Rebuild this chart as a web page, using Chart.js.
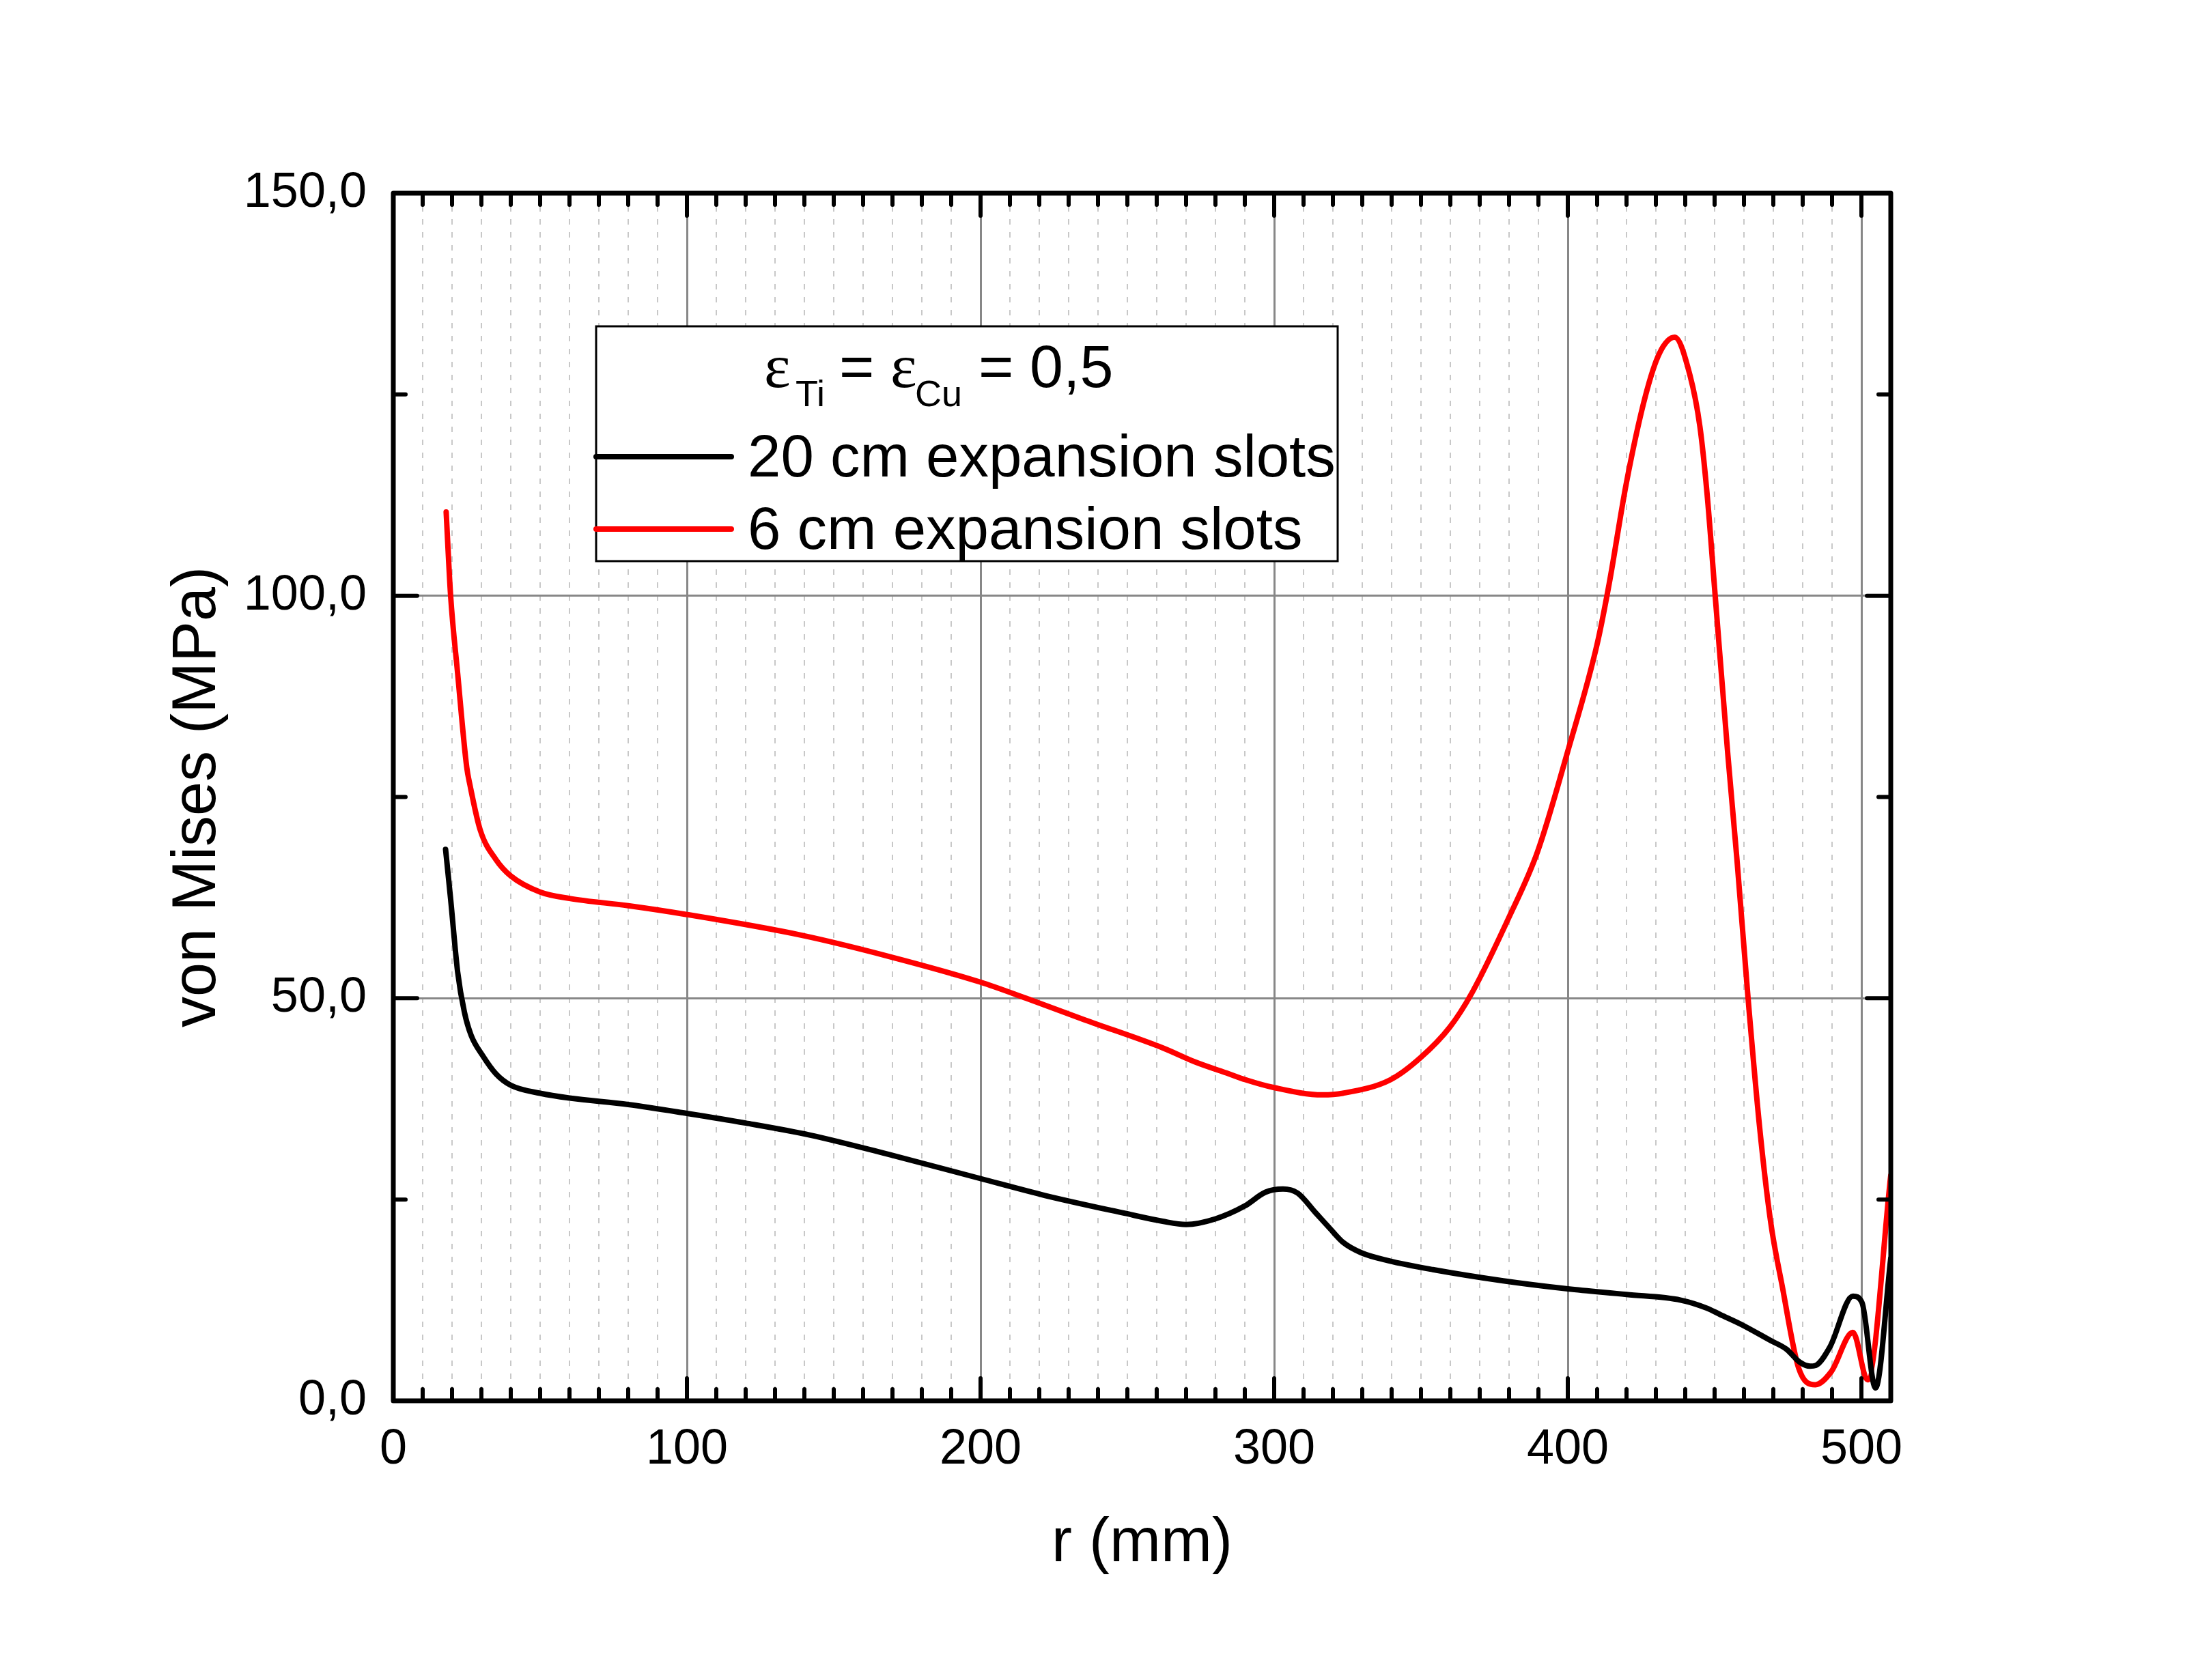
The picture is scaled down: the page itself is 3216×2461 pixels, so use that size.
<!DOCTYPE html>
<html>
<head>
<meta charset="utf-8">
<script src="https://cdn.jsdelivr.net/npm/chart.js@4.4.0/dist/chart.umd.min.js"></script>
<style>
  html, body { margin: 0; padding: 0; background: #ffffff; }
  canvas { display: block; }
</style>
</head>
<body>
<canvas id="chart" width="3216" height="2461"></canvas>
<script>
// r (mm) and von Mises stress (MPa)
const R_20CM = [17.8, 19.5, 21.9, 24.2, 26.5, 30.4, 35, 40, 50, 60, 80, 100, 120, 142, 168.8,
    200, 222, 249, 262, 270, 280, 290, 297, 303, 308, 314, 319, 323.4, 329.6, 339, 354, 378,
    400, 420, 438.5, 447.4, 452, 459, 469, 474.5, 479, 482.5, 484.5, 489.3, 497.1, 500.2, 504.8, 510];
const VM_20CM = [68.5, 62.4, 53.3, 48.3, 45.4, 42.9, 40.6, 39.2, 38.2, 37.6, 36.8, 35.7, 34.5, 33.0, 30.6,
    27.6, 25.5, 23.3, 22.3, 21.9, 22.6, 24.2, 25.9, 26.3, 25.8, 23.4, 21.4, 19.7, 18.4, 17.4, 16.3, 14.9,
    13.9, 13.2, 12.5, 11.5, 10.7, 9.5, 7.5, 6.4, 4.8, 4.3, 4.4, 6.7, 13.0, 12.2, 1.6, 17.7];

const R_6CM = [18, 19.5, 21.9, 25, 26.1, 29.6, 35, 40, 50, 60, 80, 100, 139.4, 168.8, 200, 215.5,
    235.6, 262.3, 273, 284.7, 290.1, 300, 316.4, 323.4, 339.7, 349.8, 359.8, 367.4, 379.9, 389.7,
    400, 410, 414.1, 420, 426.5, 431.2, 436.4, 441.6, 445, 447.4, 450.2, 454.5, 457.6, 461.4, 465.3,
    469.1, 473, 478.6, 484.3, 489.7, 497.1, 502.1, 510];
const VM_6CM = [110.4, 100.1, 90.4, 78.7, 76.5, 70.9, 67.2, 65.2, 63.2, 62.4, 61.5, 60.4, 57.8, 55.2, 52.0, 50.0,
    47.3, 43.8, 42.1, 40.6, 39.9, 38.9, 38.0, 38.2, 39.9, 42.6, 46.4, 50.7, 60.0, 68.2,
    80.7, 94.0, 101.5, 114.1, 124.9, 130.1, 132.1, 127.4, 121.0, 112.8, 100.0, 80.3, 67.3, 50.0, 34.1,
    22.2, 14.3, 4.1, 2.0, 3.6, 8.5, 2.6, 28.0];

const SERIES_LABELS = ['20 cm expansion slots', '6 cm expansion slots'];
const SERIES_COLORS = ['#000000', '#ff0000'];
const X_TITLE = 'r (mm)';
const Y_TITLE = 'von Mises (MPa)';

const FONT = "'Liberation Sans', Arial, sans-serif";

function toPoints(xs, ys) {
    return xs.map((x, i) => ({ x: x, y: ys[i] }));
}

// frame + inward ticks on all four sides (like Origin)
const frameTicks = {
    id: 'frameTicks',
    afterDatasetsDraw(chart) {
        const { ctx, chartArea: a, scales } = chart;
        ctx.save();
        ctx.strokeStyle = '#000';
        ctx.lineCap = 'round';
        ctx.lineWidth = 6;
        scales.x.ticks.forEach(t => {
            const px = scales.x.getPixelForValue(t.value);
            const len = t.value % 100 === 0 ? 33 : 17;
            ctx.beginPath();
            ctx.moveTo(px, a.bottom); ctx.lineTo(px, a.bottom - len);
            ctx.moveTo(px, a.top); ctx.lineTo(px, a.top + len);
            ctx.stroke();
        });
        scales.y.ticks.forEach(t => {
            const py = scales.y.getPixelForValue(t.value);
            const len = t.value % 50 === 0 ? 35 : 18;
            ctx.beginPath();
            ctx.moveTo(a.left, py); ctx.lineTo(a.left + len, py);
            ctx.moveTo(a.right, py); ctx.lineTo(a.right - len, py);
            ctx.stroke();
        });
        ctx.lineCap = 'butt';
        ctx.lineJoin = 'round';
        ctx.lineWidth = 7;
        ctx.strokeRect(a.left, a.top, a.right - a.left, a.bottom - a.top);
        ctx.restore();
    }
};

// boxed legend with the epsilon header
const legendBox = {
    id: 'legendBox',
    afterDatasetsDraw(chart) {
        const { ctx, chartArea: a } = chart;
        const left = a.left + 297, top = a.top + 195, w = 1086, h = 344;
        ctx.save();
        ctx.fillStyle = '#fff';
        ctx.fillRect(left, top, w, h);
        ctx.lineWidth = 3;
        ctx.strokeStyle = '#000';
        ctx.strokeRect(left, top, w, h);

        ctx.fillStyle = '#000';
        ctx.textBaseline = 'alphabetic';
        ctx.textAlign = 'left';
        const base = top + 89, subBase = top + 117;
        const eps = "92px 'Liberation Serif', 'Times New Roman', serif";
        const big = '88px ' + FONT, small = '54px ' + FONT;
        ctx.font = eps;   ctx.fillText('\u03B5', left + 246, base);
        ctx.font = small; ctx.fillText('Ti', left + 292, subBase);
        ctx.font = big;   ctx.fillText('=', left + 356, base);
        ctx.font = eps;   ctx.fillText('\u03B5', left + 431, base);
        ctx.font = small; ctx.fillText('Cu', left + 467, subBase);
        ctx.font = big;   ctx.fillText('=', left + 560, base);
        ctx.fillText('0,5', left + 635, base);

        chart.data.datasets.forEach((ds, i) => {
            const ly = top + 191 + i * 106;
            ctx.strokeStyle = ds.borderColor;
            ctx.lineWidth = 8;
            ctx.lineCap = 'round';
            ctx.beginPath();
            ctx.moveTo(left, ly);
            ctx.lineTo(left + 198, ly);
            ctx.stroke();
            ctx.fillStyle = '#000';
            ctx.font = '87px ' + FONT;
            ctx.fillText(ds.label, left + 222, ly + 29);
        });
        ctx.restore();
    }
};

const ctx = document.getElementById('chart').getContext('2d');
new Chart(ctx, {
    type: 'line',
    data: {
        datasets: [
            {
                label: SERIES_LABELS[0],
                data: toPoints(R_20CM, VM_20CM),
                borderColor: SERIES_COLORS[0],
                borderWidth: 8,
                pointRadius: 0,
                fill: false,
                cubicInterpolationMode: 'monotone',
                borderCapStyle: 'round',
                borderJoinStyle: 'round'
            },
            {
                label: SERIES_LABELS[1],
                data: toPoints(R_6CM, VM_6CM),
                borderColor: SERIES_COLORS[1],
                borderWidth: 8,
                pointRadius: 0,
                fill: false,
                cubicInterpolationMode: 'monotone',
                borderCapStyle: 'round',
                borderJoinStyle: 'round'
            }
        ]
    },
    options: {
        responsive: false,
        animation: false,
        devicePixelRatio: 1,
        layout: { padding: { left: 0, right: 447, top: 283, bottom: 0 } },
        plugins: {
            legend: { display: false },
            tooltip: { enabled: false }
        },
        scales: {
            x: {
                type: 'linear',
                min: 0,
                max: 510,
                afterFit: (scale) => { scale.height = 409; },
                border: {
                    display: false,
                    dash: (c) => c.tick && c.tick.value % 100 === 0 ? [] : [8, 11]
                },
                grid: {
                    drawTicks: false,
                    color: (c) => c.tick && c.tick.value % 100 === 0 ? '#878787' : '#c8c8c8',
                    lineWidth: (c) => c.tick && c.tick.value % 100 === 0 ? 3 : 2
                },
                ticks: {
                    stepSize: 10,
                    autoSkip: false,
                    maxRotation: 0,
                    padding: 29,
                    color: '#000',
                    font: { family: FONT, size: 72 },
                    callback: (v) => v % 100 === 0 ? String(v) : ''
                },
                title: {
                    display: true,
                    text: X_TITLE,
                    color: '#000',
                    font: { family: FONT, size: 90, lineHeight: 1.2 },
                    padding: { top: 0, bottom: 145 }
                }
            },
            y: {
                type: 'linear',
                min: 0,
                max: 150,
                afterFit: (scale) => { scale.width = 576; },
                border: { display: false },
                grid: {
                    drawTicks: false,
                    color: (c) => c.tick && c.tick.value % 50 === 0 ? '#878787' : 'rgba(0,0,0,0)',
                    lineWidth: 3
                },
                ticks: {
                    stepSize: 25,
                    autoSkip: false,
                    padding: 39,
                    color: '#000',
                    font: { family: FONT, size: 72 },
                    callback: (v) => v % 50 === 0 ? v.toFixed(1).replace('.', ',') : ''
                },
                title: {
                    display: true,
                    text: Y_TITLE,
                    color: '#000',
                    font: { family: FONT, size: 90, lineHeight: 1.2 },
                    padding: { top: 236, bottom: 0 }
                }
            }
        }
    },
    plugins: [legendBox, frameTicks]
});
</script>
</body>
</html>
